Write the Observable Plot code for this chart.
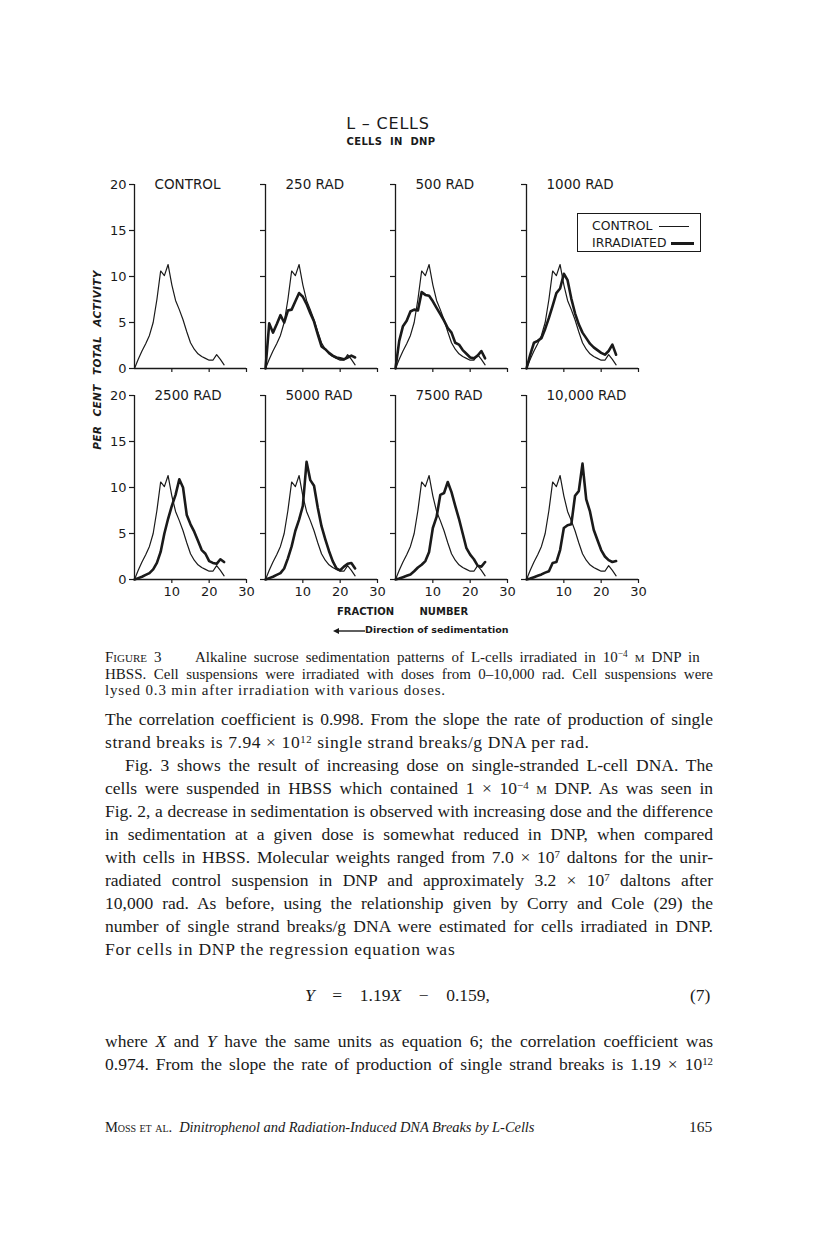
<!DOCTYPE html>
<html><head><meta charset="utf-8">
<script src="https://cdn.jsdelivr.net/npm/d3@7"></script>
<script src="https://cdn.jsdelivr.net/npm/@observablehq/plot@0.6"></script>
<style>
html,body{margin:0;padding:0;background:#fff;}
body{width:816px;height:1247px;position:relative;overflow:hidden;color:#1a1a1a;}
.abs{position:absolute;}
.sans{font-family:"DejaVu Sans",sans-serif;}
.ln{position:absolute;white-space:nowrap;line-height:20px;font-size:17.5px;font-family:"Liberation Serif","Times New Roman",serif;}
.cap{font-size:15px;line-height:16px;}
sup{font-size:0.62em;vertical-align:0.5em;line-height:0;}
.sc{font-variant:small-caps;}
.panel{position:absolute;}
</style></head><body>

<div class="abs sans" style="left:300px;top:114px;width:176px;text-align:center;font-size:16px;letter-spacing:0.8px;">L &ndash; CELLS</div>
<div class="abs sans" style="left:300px;top:136px;width:182px;text-align:center;font-size:10px;font-weight:bold;letter-spacing:0.3px;word-spacing:4px;">CELLS IN DNP</div>

<div class="abs sans" style="left:97px;top:362px;width:0;height:0;">
  <div style="position:absolute;left:-100px;top:-8px;width:200px;text-align:center;transform:rotate(-90deg);font-size:10.5px;font-weight:bold;font-style:italic;word-spacing:5px;letter-spacing:0.4px;white-space:nowrap;">PER CENT TOTAL ACTIVITY</div>
</div>

<div id="charts"></div>

<div class="abs sans" style="left:577px;top:213px;width:122px;height:37px;border:1.6px solid #1a1a1a;background:#fff;font-size:12.4px;">
  <div style="position:absolute;left:14px;top:4px;white-space:nowrap;">CONTROL</div>
  <div style="position:absolute;left:81px;top:12px;width:30px;border-top:1.1px solid #1a1a1a;"></div>
  <div style="position:absolute;left:14px;top:21px;white-space:nowrap;">IRRADIATED</div>
  <div style="position:absolute;left:93px;top:28px;width:23px;border-top:3px solid #1a1a1a;"></div>
</div>

<div class="abs sans" style="left:337px;top:606px;font-size:10px;font-weight:bold;white-space:nowrap;word-spacing:22px;">FRACTION NUMBER</div>
<div class="abs sans" style="left:333px;top:624px;font-size:9.5px;font-weight:bold;white-space:nowrap;">
  <svg width="32" height="8" style="vertical-align:middle;"><line x1="3" y1="4" x2="32" y2="4" stroke="#1a1a1a" stroke-width="1.4"/><polygon points="0,4 6,1 6,7" fill="#1a1a1a"/></svg>Direction of sedimentation</div>

<div class="ln cap jl" data-w="598" style="left:105px;top:649px;"><span class="sc" style="display:inline-block;width:90px;">Figure 3</span>Alkaline sucrose sedimentation patterns of L-cells irradiated in 10<sup>&minus;4</sup> <span class="sc">m</span> DNP in</div>
<div class="ln cap jl" data-w="608" style="left:105px;top:666px;">HBSS. Cell suspensions were irradiated with doses from 0&ndash;10,000 rad. Cell suspensions were</div>
<div class="ln cap jl" data-w="335" data-mode="ls" style="left:105px;top:682px;">lysed 0.3 min after irradiation with various doses.</div>

<div class="ln jl" data-w="608" style="left:105px;top:709px;">The correlation coefficient is 0.998. From the slope the rate of production of single</div>
<div class="ln jl" data-w="478" data-mode="ls" style="left:105px;top:732px;">strand breaks is 7.94 &times; 10<sup>12</sup> single strand breaks/g DNA per rad.</div>
<div class="ln jl" data-w="588" style="left:125px;top:755px;">Fig. 3 shows the result of increasing dose on single-stranded L-cell DNA. The</div>
<div class="ln jl" data-w="608" style="left:105px;top:778px;">cells were suspended in HBSS which contained 1 &times; 10<sup>&minus;4</sup> <span class="sc">m</span> DNP. As was seen in</div>
<div class="ln jl" data-w="608" style="left:105px;top:801px;">Fig. 2, a decrease in sedimentation is observed with increasing dose and the difference</div>
<div class="ln jl" data-w="608" style="left:105px;top:824px;">in sedimentation at a given dose is somewhat reduced in DNP, when compared</div>
<div class="ln jl" data-w="608" style="left:105px;top:847px;">with cells in HBSS. Molecular weights ranged from 7.0 &times; 10<sup>7</sup> daltons for the unir-</div>
<div class="ln jl" data-w="608" style="left:105px;top:870px;">radiated control suspension in DNP and approximately 3.2 &times; 10<sup>7</sup> daltons after</div>
<div class="ln jl" data-w="608" style="left:105px;top:893px;">10,000 rad. As before, using the relationship given by Corry and Cole (29) the</div>
<div class="ln jl" data-w="608" style="left:105px;top:916px;">number of single strand breaks/g DNA were estimated for cells irradiated in DNP.</div>
<div class="ln jl" data-w="345" data-mode="ls" style="left:105px;top:939px;">For cells in DNP the regression equation was</div>
<div class="ln jl" data-w="185" style="left:305px;top:985px;"><i>Y</i> = 1.19<i>X</i> &minus; 0.159,</div>
<div class="ln" style="left:690px;top:985px;">(7)</div>
<div class="ln jl" data-w="608" style="left:105px;top:1031px;">where <i>X</i> and <i>Y</i> have the same units as equation 6; the correlation coefficient was</div>
<div class="ln jl" data-w="608" style="left:105px;top:1054px;">0.974. From the slope the rate of production of single strand breaks is 1.19 &times; 10<sup>12</sup></div>
<div class="ln jl" data-w="430" data-mode="ls" style="left:105px;top:1117px;font-size:14.5px;"><span class="sc">Moss et al.</span>&nbsp; <i>Dinitrophenol and Radiation-Induced DNA Breaks by L-Cells</i></div>
<div class="ln" style="left:689px;top:1117px;font-size:15.5px;">165</div>

<script>
// ---- data (fraction number vs per cent total activity) ----
const fractions = [0,1,2,3,4,5,6,7,8,9,10,11,12,13,14,15,16,17,18,19,20,21,22,23,24];
const control  = [0,1.0,1.9,2.7,3.6,5.0,7.5,10.6,10.1,11.3,9.1,7.4,6.4,5.3,4.0,2.8,2.1,1.6,1.3,1.1,0.9,0.9,1.5,1.0,0.4];
const rad250   = [0,4.9,3.9,4.8,5.8,5.0,6.3,6.4,7.3,8.2,7.8,7.0,6.0,5.1,3.7,2.4,2.1,1.7,1.4,1.2,1.1,1.0,1.2,1.4,1.2];
const rad500   = [0,3.0,4.6,5.2,6.2,6.4,6.3,8.3,8.0,7.9,7.3,6.6,5.9,5.2,4.4,3.9,2.8,2.6,2.0,1.6,1.2,1.1,1.4,1.9,1.1];
const rad1000  = [0,1.5,2.8,3.0,3.3,4.3,5.5,6.8,8.2,8.7,10.3,9.6,7.6,6.0,4.8,3.9,3.3,2.7,2.3,2.0,1.7,1.5,1.9,2.6,1.5];
const rad2500  = [0,0.15,0.3,0.5,0.7,1.1,1.8,3.0,5.0,6.6,8.0,9.2,10.9,10.0,7.0,6.0,5.2,4.2,3.2,2.8,2.0,1.8,1.7,2.2,1.9];
const rad5000  = [0,0.15,0.3,0.5,0.7,1.2,2.3,3.6,5.3,6.5,8.0,12.8,10.8,10.2,7.8,5.8,4.4,3.1,2.0,1.2,1.0,1.4,1.7,1.8,1.2];
const rad7500  = [0,0.1,0.25,0.4,0.55,0.9,1.3,1.6,2.0,3.0,5.6,6.8,9.2,9.4,10.6,9.5,8.0,6.6,5.0,3.4,2.7,2.2,1.5,1.4,1.9];
const rad10000 = [0,0.1,0.25,0.4,0.55,0.75,0.9,1.8,1.9,3.2,5.6,5.9,6.0,9.1,9.6,12.6,8.7,7.4,5.4,4.3,3.2,2.5,2.1,1.9,2.0];
const panelTitles = ["CONTROL","250 RAD","500 RAD","1000 RAD","2500 RAD","5000 RAD","7500 RAD","10,000 RAD"];
const irradiatedSeries = [null, rad250, rad500, rad1000, rad2500, rad5000, rad7500, rad10000];
const yTicks = [0,5,10,15,20];
const xTicks = [10,20,30];

const ink = "#1a1a1a";
const colX = [134, 264.5, 395, 525.5];
const rowTop = [184, 394.5];
const FW = 112, FH = 184, ML = 36, MR = 12, MT = 14, MB = 24;
const host = document.getElementById("charts");

panelTitles.forEach((title, i) => {
  const col = i % 4, row = Math.floor(i / 4);
  const irr = irradiatedSeries[i];
  const rows = fractions.map((f, k) => ({f, c: control[k], r: irr ? irr[k] : null}));
  const marks = [
    Plot.ruleX([0], {stroke: ink, strokeWidth: 1.3}),
    Plot.ruleY([0], {stroke: ink, strokeWidth: 1.3}),
    Plot.axisY(yTicks, {tickSize: 5, tickPadding: 3, label: null, stroke: ink, strokeWidth: 1.2, fill: ink, fontSize: 13,
      tickFormat: col === 0 ? d => String(d) : () => ""}),
    Plot.axisX(xTicks, {tickSize: 4, tickPadding: 3, label: null, stroke: ink, strokeWidth: 1.2, fill: ink, fontSize: 13,
      tickFormat: row === 1 ? d => String(d) : () => ""}),
    Plot.line(rows, {x: "f", y: "c", stroke: ink, strokeWidth: 1.2, strokeLinejoin: "round"})
  ];
  if (irr) marks.push(Plot.line(rows, {x: "f", y: "r", stroke: ink, strokeWidth: 2.6, strokeLinejoin: "round"}));
  marks.push(Plot.text([title], {frameAnchor: "top-left", dx: 20, textAnchor: "start", lineAnchor: "middle", fontSize: 13.5, fill: ink}));
  const chart = Plot.plot({
    width: ML + FW + MR, height: MT + FH + MB,
    marginLeft: ML, marginRight: MR, marginTop: MT, marginBottom: MB,
    x: {domain: [0, 30]}, y: {domain: [0, 20]},
    style: {fontFamily: "DejaVu Sans, sans-serif", fontSize: "13px", background: "transparent", color: ink, overflow: "visible"},
    marks
  });
  const d = document.createElement("div");
  d.className = "panel";
  d.style.left = (colX[col] - ML) + "px";
  d.style.top = (rowTop[row] - MT) + "px";
  d.appendChild(chart);
  host.appendChild(d);
});

// fit each text line to its measured width
document.querySelectorAll(".jl").forEach(el => {
  const target = +el.dataset.w;
  const natural = el.getBoundingClientRect().width;
  const txt = el.textContent;
  const spaces = (txt.match(/ /g) || []).length;
  const chars = txt.replace(/\s/g, "").length;
  const extra = target - natural;
  let ls = 0;
  if (el.dataset.mode === "ls" || spaces === 0) ls = extra / chars;
  else if (extra < 0) ls = extra * 0.4 / chars;
  if (ls) el.style.letterSpacing = ls + "px";
  const afterLs = el.getBoundingClientRect().width;
  if (spaces > 0 && el.dataset.mode !== "ls") el.style.wordSpacing = ((target - afterLs) / spaces) + "px";
});
</script>
</body></html>
